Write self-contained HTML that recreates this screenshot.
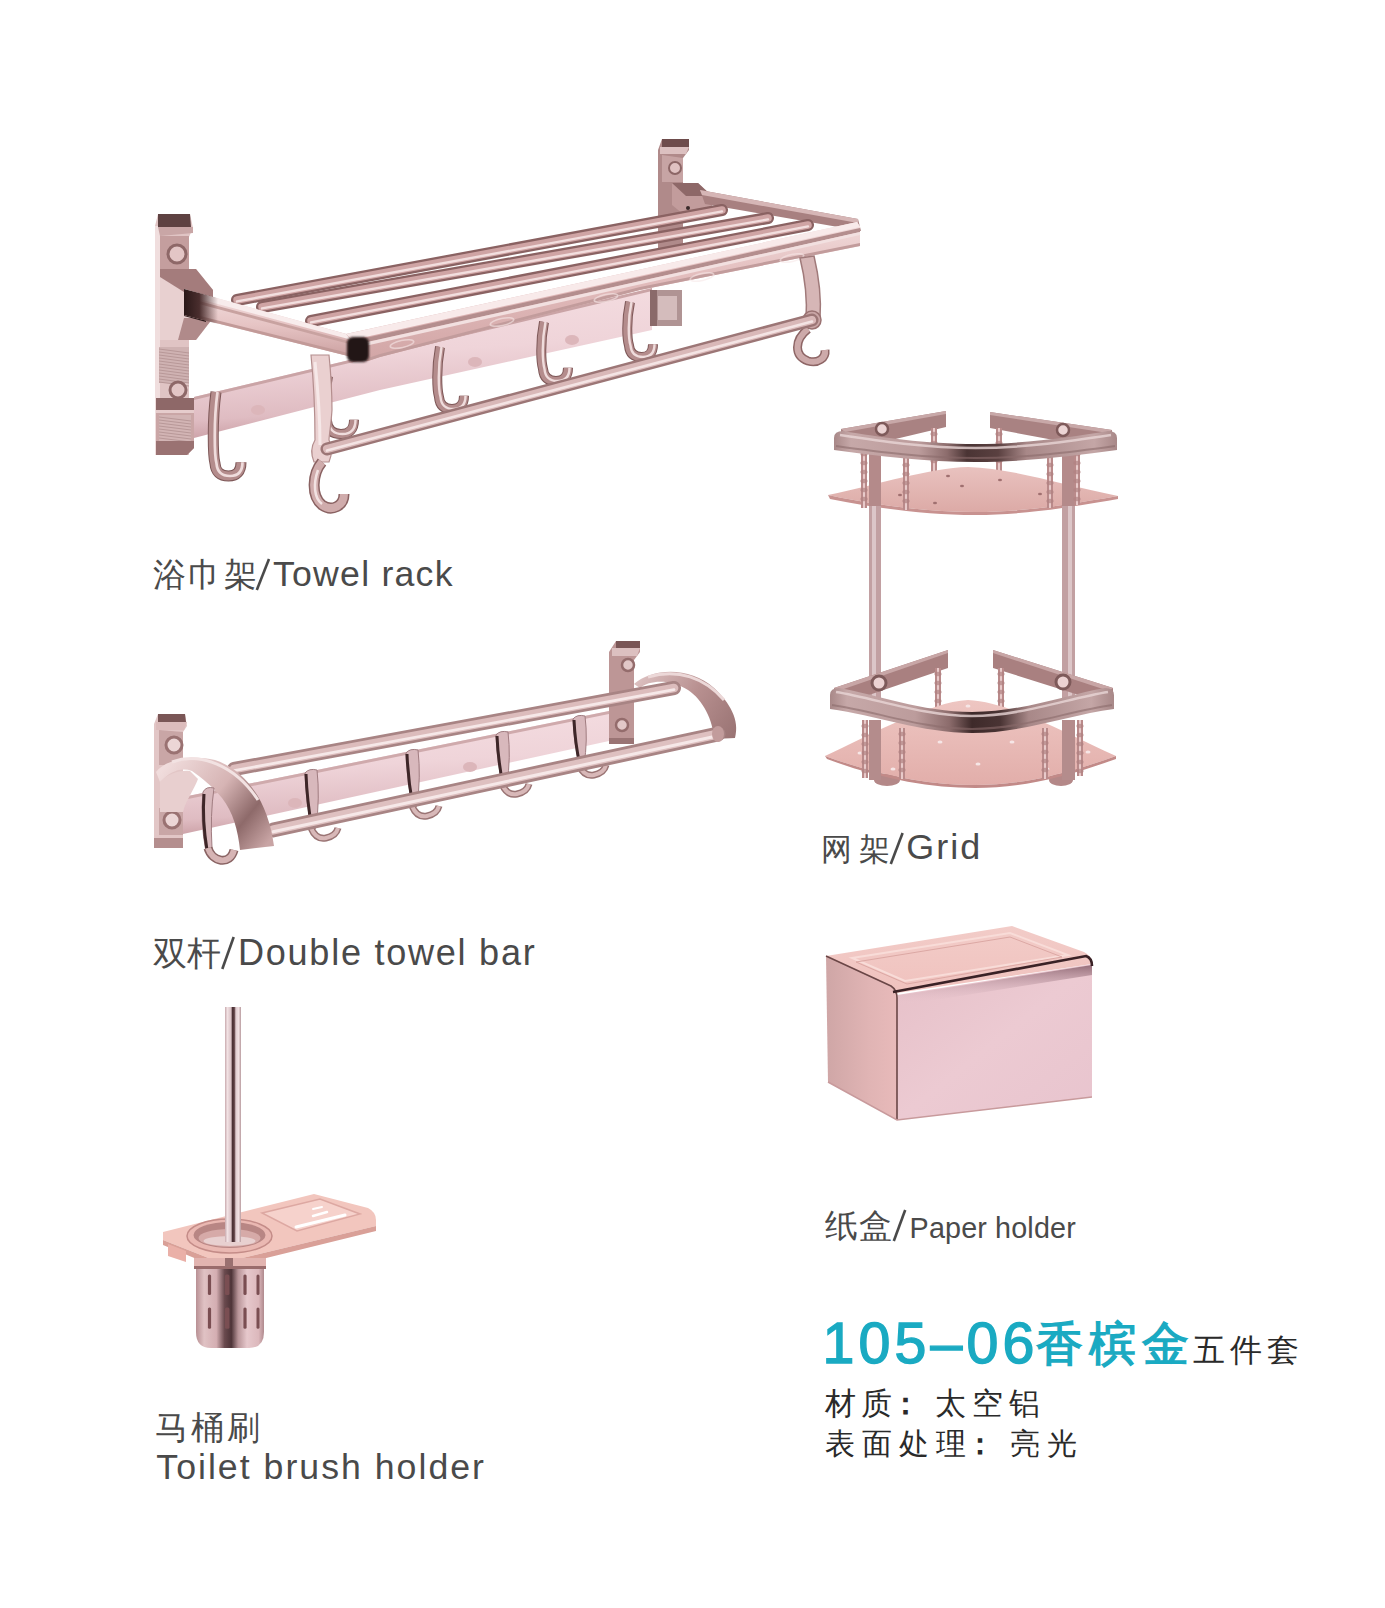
<!DOCTYPE html>
<html><head><meta charset="utf-8">
<style>
html,body{margin:0;padding:0;background:#fff;}
body{width:1385px;height:1608px;position:relative;overflow:hidden;font-family:"Liberation Sans",sans-serif;color:#4a4a4a;}
.t{position:absolute;white-space:nowrap;line-height:1;}
svg{position:absolute;left:0;top:0;}
</style></head><body>
<svg width="1385" height="1608" viewBox="0 0 1385 1608">

<defs>
 <linearGradient id="gTube" x1="0" y1="0" x2="0.2" y2="1">
  <stop offset="0" stop-color="#d8b0b4"/><stop offset="0.15" stop-color="#f4dce0"/><stop offset="0.5" stop-color="#efd4d9"/><stop offset="0.85" stop-color="#dfbcc2"/><stop offset="1" stop-color="#c89ca2"/>
 </linearGradient>
 <linearGradient id="gFace" x1="0" y1="0" x2="0.1" y2="1">
  <stop offset="0" stop-color="#f4dcdb"/><stop offset="0.2" stop-color="#c99a98"/><stop offset="0.35" stop-color="#ecd0cf"/><stop offset="1" stop-color="#e2bcbb"/>
 </linearGradient>
 <linearGradient id="gPlate" x1="0" y1="0" x2="1" y2="0">
  <stop offset="0" stop-color="#c9a3a3"/><stop offset="0.5" stop-color="#e9cfcf"/><stop offset="1" stop-color="#c39b9b"/>
 </linearGradient>
 <linearGradient id="gBox" x1="0" y1="0" x2="1" y2="1">
  <stop offset="0" stop-color="#e6c0c8"/><stop offset="0.5" stop-color="#eccad2"/><stop offset="1" stop-color="#e8c4ce"/>
 </linearGradient>
 <linearGradient id="gBoxSide" x1="0" y1="0" x2="1" y2="0">
  <stop offset="0" stop-color="#cfa6a6"/><stop offset="0.6" stop-color="#e0b4b4"/><stop offset="1" stop-color="#e8baba"/>
 </linearGradient>
 <linearGradient id="gBoxTop" x1="0" y1="0" x2="0" y2="1">
  <stop offset="0" stop-color="#f2ccc8"/><stop offset="1" stop-color="#f0c2be"/>
 </linearGradient>
 <linearGradient id="gRim" x1="0" y1="0" x2="0" y2="1">
  <stop offset="0" stop-color="#a58080"/><stop offset="0.25" stop-color="#d9b9ba"/><stop offset="0.6" stop-color="#9a7474"/><stop offset="1" stop-color="#7d5a5c"/>
 </linearGradient>
 <linearGradient id="gShelf" x1="0" y1="0" x2="0" y2="1">
  <stop offset="0" stop-color="#e9c2bf"/><stop offset="1" stop-color="#dcaaa6"/>
 </linearGradient>
 <linearGradient id="gCup" x1="0" y1="0" x2="1" y2="0">
  <stop offset="0" stop-color="#b89094"/><stop offset="0.12" stop-color="#e0c2c4"/><stop offset="0.3" stop-color="#d4aeb2"/><stop offset="0.42" stop-color="#6a4a4e"/><stop offset="0.52" stop-color="#4e3438"/><stop offset="0.62" stop-color="#b89498"/><stop offset="0.75" stop-color="#e6c8cc"/><stop offset="0.92" stop-color="#dcb8bc"/><stop offset="1" stop-color="#b08a8e"/>
 </linearGradient>
 <linearGradient id="gHandle" x1="0" y1="0" x2="1" y2="0">
  <stop offset="0" stop-color="#c8aaae"/><stop offset="0.15" stop-color="#f2e2e4"/><stop offset="0.38" stop-color="#d8c0c4"/><stop offset="0.46" stop-color="#4a3034"/><stop offset="0.58" stop-color="#5a3c40"/><stop offset="0.68" stop-color="#e0ccd0"/><stop offset="0.85" stop-color="#f0e0e2"/><stop offset="1" stop-color="#b89a9e"/>
 </linearGradient>
 <linearGradient id="gArmL" gradientUnits="userSpaceOnUse" x1="170" y1="760" x2="270" y2="840">
  <stop offset="0" stop-color="#f0dcdc"/><stop offset="0.45" stop-color="#d6b4b4"/><stop offset="0.75" stop-color="#8e6a6a"/><stop offset="1" stop-color="#c8a4a4"/>
 </linearGradient>
 <linearGradient id="gArmR" gradientUnits="userSpaceOnUse" x1="640" y1="675" x2="735" y2="735">
  <stop offset="0" stop-color="#dcc0c0"/><stop offset="0.5" stop-color="#b89090"/><stop offset="1" stop-color="#9a7474"/>
 </linearGradient>
 <linearGradient id="gRimH" gradientUnits="userSpaceOnUse" x1="834" y1="0" x2="1117" y2="0">
  <stop offset="0" stop-color="#a88888"/><stop offset="0.06" stop-color="#c6a8a8"/><stop offset="0.3" stop-color="#bc9c9c"/><stop offset="0.4" stop-color="#8c6c6c"/><stop offset="0.47" stop-color="#4a3434"/><stop offset="0.58" stop-color="#5a4040"/><stop offset="0.68" stop-color="#a88888"/><stop offset="0.92" stop-color="#c4a6a6"/><stop offset="1" stop-color="#a88888"/>
 </linearGradient>
 <linearGradient id="gRimH2" gradientUnits="userSpaceOnUse" x1="830" y1="0" x2="1114" y2="0">
  <stop offset="0" stop-color="#a88888"/><stop offset="0.06" stop-color="#c6a8a8"/><stop offset="0.3" stop-color="#bc9c9c"/><stop offset="0.42" stop-color="#8c6c6c"/><stop offset="0.5" stop-color="#3e2a2a"/><stop offset="0.6" stop-color="#4a3434"/><stop offset="0.7" stop-color="#a88888"/><stop offset="0.92" stop-color="#c4a6a6"/><stop offset="1" stop-color="#a88888"/>
 </linearGradient>
 <linearGradient id="gShelf2" x1="0" y1="0" x2="0" y2="1">
  <stop offset="0" stop-color="#eec6c2"/><stop offset="1" stop-color="#e2aeaa"/>
 </linearGradient>
 <linearGradient id="gBand" x1="0" y1="0" x2="0" y2="1">
  <stop offset="0" stop-color="#8c6470" stop-opacity="0.9"/><stop offset="1" stop-color="#f0d0d8" stop-opacity="0"/>
 </linearGradient>
 <linearGradient id="gFrame" x1="0" y1="0" x2="0" y2="1">
  <stop offset="0" stop-color="#f2dcdc"/><stop offset="0.4" stop-color="#e2bcbc"/><stop offset="1" stop-color="#d2a6a6"/>
 </linearGradient>
 <linearGradient id="gArmFrame" x1="0" y1="0" x2="0" y2="1">
  <stop offset="0" stop-color="#f4e2e2"/><stop offset="0.5" stop-color="#e6c4c4"/><stop offset="1" stop-color="#c89c9c"/>
 </linearGradient>
 <linearGradient id="gSocket" gradientUnits="userSpaceOnUse" x1="184" y1="0" x2="218" y2="0">
  <stop offset="0" stop-color="#2a1818"/><stop offset="0.45" stop-color="#4a2e2e"/><stop offset="1" stop-color="#4a2e2e" stop-opacity="0"/>
 </linearGradient>
 <filter id="blur1" x="-20%" y="-20%" width="140%" height="140%"><feGaussianBlur stdDeviation="1.2"/></filter>
</defs>
<line x1="256.8" y1="590" x2="269" y2="559" stroke="#4a4a4a" stroke-width="2.6"/>
<line x1="222.3" y1="969" x2="233.7" y2="937" stroke="#4a4a4a" stroke-width="2.6"/>
<line x1="890.8" y1="864" x2="902.6" y2="833" stroke="#4a4a4a" stroke-width="2.6"/>
<line x1="893.8" y1="1241" x2="905.2" y2="1210" stroke="#4a4a4a" stroke-width="2.6"/>
<path d="M658,150 L662,139 L689,139 L689,150 L683,158 L683,253 L658,253 Z" fill="#b08a8a"/>
<path d="M662,139 L689,139 L689,147 L662,147 Z" fill="#6e4c4c"/>
<path d="M660,147 L689,147 L686,154 L660,154 Z" fill="#dcc0c0"/>
<path d="M662,155 L683,158 L683,182 L662,182 Z" fill="#c7a4a4"/>
<circle cx="675" cy="168" r="6" fill="#e0c2c2" stroke="#8c6666" stroke-width="2"/>
<path d="M672,183 L698,183 L712,196 L712,214 L683,214 L672,205 Z" fill="#c29c9c"/>
<path d="M672,183 L698,183 L712,196 L686,196 Z" fill="#8e6868"/>
<circle cx="688" cy="208" r="2" fill="#3a2a2a"/>
<path d="M700,190 L858,219 L861,231 L705,204 Z" fill="#a88080"/>
<path d="M700,190 L858,219 L858,223 L702,195 Z" fill="#d6b6b6"/>
<line x1="237" y1="300" x2="722" y2="210" stroke="#8a6262" stroke-width="12" stroke-linecap="round"/><line x1="237" y1="300" x2="722" y2="210" stroke="#cfa4a4" stroke-width="7.4399999999999995" stroke-linecap="round"/><line x1="237" y1="301.44" x2="722" y2="211.44" stroke="#f2dede" stroke-width="2.4000000000000004" stroke-linecap="round"/>
<line x1="262" y1="307" x2="768" y2="218" stroke="#8a6262" stroke-width="12" stroke-linecap="round"/><line x1="262" y1="307" x2="768" y2="218" stroke="#cfa4a4" stroke-width="7.4399999999999995" stroke-linecap="round"/><line x1="262" y1="308.44" x2="768" y2="219.44" stroke="#f2dede" stroke-width="2.4000000000000004" stroke-linecap="round"/>
<line x1="311" y1="321" x2="808" y2="225" stroke="#8a6262" stroke-width="12" stroke-linecap="round"/><line x1="311" y1="321" x2="808" y2="225" stroke="#cfa4a4" stroke-width="7.4399999999999995" stroke-linecap="round"/><line x1="311" y1="322.44" x2="808" y2="226.44" stroke="#f2dede" stroke-width="2.4000000000000004" stroke-linecap="round"/>
<path d="M155,226 L158,214 L190,214 L193,228 L189,237 L189,455 L155,455 Z" fill="#e0c4c4"/>
<path d="M155,226 L160,226 L160,455 L155,455 Z" fill="#f0dede"/>
<path d="M158,214 L190,214 L191,227 L158,227 Z" fill="#5e4242"/>
<path d="M158,227 L193,227 L193,233 L160,236 Z" fill="#c9a6a6"/>
<path d="M160,236 L189,236 L189,269 L160,269 Z" fill="#c49e9e"/>
<circle cx="177" cy="254" r="9" fill="#e3c6c6" stroke="#8e6868" stroke-width="3"/>
<path d="M160,269 L196,269 L213,290 L213,318 L196,340 L160,340 Z" fill="#e8d0d0"/>
<path d="M160,269 L196,269 L213,290 L213,300 L184,292 L160,277 Z" fill="#a47c7c"/>
<path d="M184,318 L213,318 L196,340 L178,340 Z" fill="#b08a8a"/>
<path d="M184,292 L206,297 L206,322 L184,316 Z" fill="#2e1c1c"/>
<rect x="159" y="347" width="30" height="36" fill="#cfb2b2"/>
<line x1="159" y1="349" x2="189" y2="353" stroke="#b89898" stroke-width="1"/>
<line x1="159" y1="352" x2="189" y2="356" stroke="#b89898" stroke-width="1"/>
<line x1="159" y1="355" x2="189" y2="359" stroke="#b89898" stroke-width="1"/>
<line x1="159" y1="358" x2="189" y2="362" stroke="#b89898" stroke-width="1"/>
<line x1="159" y1="361" x2="189" y2="365" stroke="#b89898" stroke-width="1"/>
<line x1="159" y1="364" x2="189" y2="368" stroke="#b89898" stroke-width="1"/>
<line x1="159" y1="367" x2="189" y2="371" stroke="#b89898" stroke-width="1"/>
<line x1="159" y1="370" x2="189" y2="374" stroke="#b89898" stroke-width="1"/>
<line x1="159" y1="373" x2="189" y2="377" stroke="#b89898" stroke-width="1"/>
<line x1="159" y1="376" x2="189" y2="380" stroke="#b89898" stroke-width="1"/>
<line x1="159" y1="379" x2="189" y2="383" stroke="#b89898" stroke-width="1"/>
<line x1="159" y1="382" x2="189" y2="386" stroke="#b89898" stroke-width="1"/>
<circle cx="178" cy="390" r="8" fill="#e3c6c6" stroke="#8e6868" stroke-width="3"/>
<path d="M156,398 L194,398 L194,448 L187,455 L156,455 Z" fill="#caa6a6"/>
<path d="M156,398 L194,398 L194,410 L156,410 Z" fill="#8e6868"/>
<path d="M156,410 L194,410 L194,413 L156,413 Z" fill="#e6cccc"/>
<rect x="159" y="415" width="32" height="26" fill="#d2b4b4"/>
<line x1="159" y1="417" x2="191" y2="421" stroke="#b89898" stroke-width="1"/>
<line x1="159" y1="420" x2="191" y2="424" stroke="#b89898" stroke-width="1"/>
<line x1="159" y1="423" x2="191" y2="427" stroke="#b89898" stroke-width="1"/>
<line x1="159" y1="426" x2="191" y2="430" stroke="#b89898" stroke-width="1"/>
<line x1="159" y1="429" x2="191" y2="433" stroke="#b89898" stroke-width="1"/>
<line x1="159" y1="432" x2="191" y2="436" stroke="#b89898" stroke-width="1"/>
<line x1="159" y1="435" x2="191" y2="439" stroke="#b89898" stroke-width="1"/>
<line x1="159" y1="438" x2="191" y2="442" stroke="#b89898" stroke-width="1"/>
<path d="M156,441 L194,441 L194,448 L187,455 L156,455 Z" fill="#9a7272"/>
<path d="M194,397 L652,288 L652,330 L380,390 L194,438 Z" fill="url(#gTube)"/>
<path d="M194,397 L652,288 L652,291 L194,400 Z" fill="#caa4a6"/>
<ellipse cx="258" cy="410" rx="7" ry="5" fill="#dcb6ba"/>
<ellipse cx="475" cy="362" rx="7" ry="5" fill="#dcb6ba"/>
<ellipse cx="572" cy="340" rx="7" ry="5" fill="#dcb6ba"/>
<path d="M650,290 L682,290 L682,326 L650,326 Z" fill="#b09494"/><path d="M658,296 L677,296 L677,320 L658,320 Z" fill="#d4bcbc"/><path d="M650,290 L657,290 L657,326 L650,326 Z" fill="#8a6a6a"/>
<path d="M216,392 C212,421.4 213,456.0 215,463.5 Q216,476 228.5,476 Q241,476 241,462.25" fill="none" stroke="#7e5858" stroke-width="11" stroke-linecap="butt"/><path d="M216,392 C212,421.4 213,456.0 215,463.5 Q216,476 228.5,476 Q241,476 241,462.25" fill="none" stroke="#b48c8c" stroke-width="9" stroke-linecap="butt"/><path d="M216,392 C212,421.4 213,456.0 215,463.5 Q216,476 228.5,476 Q241,476 241,462.25" fill="none" stroke="#efdcdc" stroke-width="2.6999999999999997" transform="translate(1.5,0)"/>
<path d="M440,347 C436,368.7 437,389.8 439,397.0 Q440,409 452.0,409 Q464,409 464,395.8" fill="none" stroke="#7e5858" stroke-width="10" stroke-linecap="butt"/><path d="M440,347 C436,368.7 437,389.8 439,397.0 Q440,409 452.0,409 Q464,409 464,395.8" fill="none" stroke="#b48c8c" stroke-width="8" stroke-linecap="butt"/><path d="M440,347 C436,368.7 437,389.8 439,397.0 Q440,409 452.0,409 Q464,409 464,395.8" fill="none" stroke="#efdcdc" stroke-width="2.4" transform="translate(1.5,0)"/>
<path d="M544,322 C540,342.65 541,361.8 543,369.0 Q544,381 556.0,381 Q568,381 568,367.8" fill="none" stroke="#7e5858" stroke-width="10" stroke-linecap="butt"/><path d="M544,322 C540,342.65 541,361.8 543,369.0 Q544,381 556.0,381 Q568,381 568,367.8" fill="none" stroke="#b48c8c" stroke-width="8" stroke-linecap="butt"/><path d="M544,322 C540,342.65 541,361.8 543,369.0 Q544,381 556.0,381 Q568,381 568,367.8" fill="none" stroke="#efdcdc" stroke-width="2.4" transform="translate(1.5,0)"/>
<path d="M630,302 C626,321.25 627,338.6 629,345.5 Q630,357 641.5,357 Q653,357 653,344.35" fill="none" stroke="#7e5858" stroke-width="10" stroke-linecap="butt"/><path d="M630,302 C626,321.25 627,338.6 629,345.5 Q630,357 641.5,357 Q653,357 653,344.35" fill="none" stroke="#b48c8c" stroke-width="8" stroke-linecap="butt"/><path d="M630,302 C626,321.25 627,338.6 629,345.5 Q630,357 641.5,357 Q653,357 653,344.35" fill="none" stroke="#efdcdc" stroke-width="2.4" transform="translate(1.5,0)"/>
<path d="M328,376 C324,396.3 325,413.2 327,421.0 Q328,434 341.0,434 Q354,434 354,419.7" fill="none" stroke="#7e5858" stroke-width="10" stroke-linecap="butt"/><path d="M328,376 C324,396.3 325,413.2 327,421.0 Q328,434 341.0,434 Q354,434 354,419.7" fill="none" stroke="#b48c8c" stroke-width="8" stroke-linecap="butt"/><path d="M328,376 C324,396.3 325,413.2 327,421.0 Q328,434 341.0,434 Q354,434 354,419.7" fill="none" stroke="#efdcdc" stroke-width="2.4" transform="translate(1.5,0)"/>
<path d="M184,289 L350,335 L368,361 L184,315 Z" fill="url(#gArmFrame)"/>
<path d="M184,289 L350,335 L352,340 L184,295 Z" fill="#f8ecec"/>
<path d="M184,297 L352,342 L353,345 L184,300 Z" fill="#c8a2a0"/>
<path d="M184,312 L368,358 L368,361 L184,315 Z" fill="#c29a98"/>
<path d="M184,289 L218,298 L218,324 L184,315 Z" fill="url(#gSocket)"/>
<path d="M346,334 L857,222 L860,226 L860,246 L640,290 L380,357 L368,361 Z" fill="url(#gFrame)"/>
<path d="M346,334 L857,222 L860,227 L352,340 Z" fill="#f8eaea"/>
<path d="M352,341 L860,228 L860,232 L354,345 Z" fill="#b48e8e"/>
<path d="M354,345 L860,232 L860,235 L356,348 Z" fill="#f2e0e0"/>
<path d="M368,358 L380,354 L640,287 L860,243 L860,246 L640,290 L380,357 L368,361 Z" fill="#c29c9c"/>
<rect x="347" y="337" width="22" height="25" rx="6" fill="#241212" filter="url(#blur1)"/>
<ellipse cx="402" cy="344" rx="12" ry="3.5" fill="none" stroke="#f6e8e8" stroke-width="1.6" opacity="0.6" transform="rotate(-12 402 344)"/>
<ellipse cx="502" cy="322" rx="12" ry="3.5" fill="none" stroke="#f6e8e8" stroke-width="1.6" opacity="0.6" transform="rotate(-12 502 322)"/>
<ellipse cx="606" cy="298" rx="12" ry="3.5" fill="none" stroke="#f6e8e8" stroke-width="1.6" opacity="0.6" transform="rotate(-12 606 298)"/>
<ellipse cx="702" cy="277" rx="12" ry="3.5" fill="none" stroke="#f6e8e8" stroke-width="1.6" opacity="0.6" transform="rotate(-12 702 277)"/>
<ellipse cx="792" cy="258" rx="12" ry="3.5" fill="none" stroke="#f6e8e8" stroke-width="1.6" opacity="0.6" transform="rotate(-12 792 258)"/>
<path d="M311,355 L329,355 C331,375 332,395 332,410 C331,425 329,436 329,440 Q334,450 329,462 L314,462 Q309,450 315,440 C315,425 315,395 311,355 Z" fill="#ead0d0" stroke="#b48e8e" stroke-width="1.2"/>
<path d="M315,362 C318,390 320,420 320,445" fill="none" stroke="#f6e8e8" stroke-width="3"/>
<path d="M322,462 C312,474 311,496 322,505 C332,512 344,506 344,494" fill="none" stroke="#8a6262" stroke-width="11" stroke-linecap="butt"/>
<path d="M322,462 C312,474 311,496 322,505 C332,512 344,506 344,494" fill="none" stroke="#d0acac" stroke-width="8" stroke-linecap="butt"/>
<path d="M318,470 C313,484 314,498 322,504" fill="none" stroke="#f2e2e2" stroke-width="2.5"/>
<path d="M800,258 L814,256 Q822,290 820,318 L806,320 Q808,290 800,258 Z" fill="#d6b6b6" stroke="#a07a7a" stroke-width="1.5"/>
<circle cx="812" cy="320" r="9" fill="#caa6a6" stroke="#9a7272" stroke-width="1.5"/>
<path d="M808,329 C794,340 794,356 808,361 C818,364 826,358 825,350" fill="none" stroke="#8e6666" stroke-width="9" stroke-linecap="butt"/>
<path d="M808,329 C794,340 794,356 808,361 C818,364 826,358 825,350" fill="none" stroke="#cdaaaa" stroke-width="6" stroke-linecap="butt"/>
<line x1="327" y1="449" x2="812" y2="320" stroke="#9c7676" stroke-width="13" stroke-linecap="round"/><line x1="327" y1="449" x2="812" y2="320" stroke="#d9b8b8" stroke-width="8.06" stroke-linecap="round"/><line x1="327" y1="450.56" x2="812" y2="321.56" stroke="#f4e4e4" stroke-width="2.6" stroke-linecap="round"/>
<path d="M609,652 L616,641 L640,641 L640,652 L634,660 L634,744 L609,744 Z" fill="#bd9696"/>
<path d="M616,641 L640,641 L640,648 L616,648 Z" fill="#7a5656"/>
<path d="M612,648 L640,648 L637,656 L612,656 Z" fill="#dcc0c0"/>
<circle cx="628" cy="665" r="6" fill="#e2c8c8" stroke="#946c6c" stroke-width="2.5"/>
<circle cx="622" cy="725" r="6" fill="#e2c8c8" stroke="#946c6c" stroke-width="2.5"/>
<path d="M609,738 L634,738 L634,744 L609,744 Z" fill="#9a7474"/>
<path d="M634,684 C652,668 690,666 714,688 C730,703 740,720 735,738 L714,739 C713,720 703,700 688,690 C670,679 650,680 640,688 Z" fill="url(#gArmR)"/>
<path d="M648,677 C678,668 705,678 724,700" fill="none" stroke="#ecd8d8" stroke-width="3"/>
<line x1="234" y1="769" x2="674" y2="688" stroke="#a88484" stroke-width="14" stroke-linecap="round"/><line x1="234" y1="769" x2="674" y2="688" stroke="#dcbcbc" stroke-width="8.68" stroke-linecap="round"/><line x1="234" y1="770.68" x2="674" y2="689.68" stroke="#f6e8e8" stroke-width="2.8000000000000003" stroke-linecap="round"/>
<path d="M154,724 L158,714 L185,714 L187,726 L183,732 L183,848 L154,848 Z" fill="#e2c6c6"/>
<path d="M158,714 L185,714 L186,722 L158,722 Z" fill="#7a5656"/>
<path d="M156,722 L187,722 L184,730 L156,730 Z" fill="#dcbcbc"/>
<path d="M159,730 L183,732 L183,765 L159,765 Z" fill="#c9a6a6"/>
<circle cx="174" cy="745" r="8" fill="#ecd6d6" stroke="#9a7272" stroke-width="3"/>
<path d="M159,808 L183,808 L183,835 L159,835 Z" fill="#c9a6a6"/>
<circle cx="172" cy="820" r="8" fill="#ecd6d6" stroke="#9a7272" stroke-width="3"/>
<path d="M154,838 L183,838 L183,848 L154,848 Z" fill="#b48e8e"/>
<path d="M183,797 L609,711 L609,741 L183,834 Z" fill="url(#gTube)"/>
<path d="M183,797 L609,711 L609,714 L183,800 Z" fill="#cfaaac"/>
<ellipse cx="295" cy="803" rx="7" ry="5" fill="#dcb6ba"/>
<ellipse cx="470" cy="767" rx="7" ry="5" fill="#dcb6ba"/>
<path d="M305,773 Q309,768 317,770 Q320,797.2 316,828 L312,830 Q306,804.0 305,773 Z" fill="#d8b8bc" stroke="#a07c80" stroke-width="1"/><path d="M306,774 Q307,800.6 312,829" fill="none" stroke="#3e2628" stroke-width="3"/><path d="M311,828 Q316,840 326,838 Q336,836 338,828" fill="none" stroke="#9a7474" stroke-width="7"/><path d="M311,828 Q316,840 326,838 Q336,836 338,828" fill="none" stroke="#d8b8b8" stroke-width="4"/>
<path d="M406,753 Q410,748 418,750 Q421,776.4 417,806 L413,808 Q407,783.0 406,753 Z" fill="#d8b8bc" stroke="#a07c80" stroke-width="1"/><path d="M407,754 Q408,779.7 413,807" fill="none" stroke="#3e2628" stroke-width="3"/><path d="M412,806 Q417,818 427,816 Q437,814 439,806" fill="none" stroke="#9a7474" stroke-width="7"/><path d="M412,806 Q417,818 427,816 Q437,814 439,806" fill="none" stroke="#d8b8b8" stroke-width="4"/>
<path d="M496,735 Q500,730 508,732 Q511,756.8 507,784 L503,786 Q497,763.0 496,735 Z" fill="#d8b8bc" stroke="#a07c80" stroke-width="1"/><path d="M497,736 Q498,759.9 503,785" fill="none" stroke="#3e2628" stroke-width="3"/><path d="M502,784 Q507,796 517,794 Q527,792 529,784" fill="none" stroke="#9a7474" stroke-width="7"/><path d="M502,784 Q507,796 517,794 Q527,792 529,784" fill="none" stroke="#d8b8b8" stroke-width="4"/>
<path d="M573,719 Q577,714 585,716 Q588,739.6 584,765 L580,767 Q574,745.5 573,719 Z" fill="#d8b8bc" stroke="#a07c80" stroke-width="1"/><path d="M574,720 Q575,742.55 580,766" fill="none" stroke="#3e2628" stroke-width="3"/><path d="M579,765 Q584,777 594,775 Q604,773 606,765" fill="none" stroke="#9a7474" stroke-width="7"/><path d="M579,765 Q584,777 594,775 Q604,773 606,765" fill="none" stroke="#d8b8b8" stroke-width="4"/>
<line x1="273" y1="830" x2="718" y2="734" stroke="#a88484" stroke-width="15" stroke-linecap="round"/><line x1="273" y1="830" x2="718" y2="734" stroke="#dec0c0" stroke-width="9.3" stroke-linecap="round"/><line x1="273" y1="831.8" x2="718" y2="735.8" stroke="#f6e8e8" stroke-width="3.0" stroke-linecap="round"/>
<ellipse cx="718" cy="734" rx="6" ry="8" fill="#c29c9c"/>
<path d="M160,782 C168,774 178,770 190,771 L198,779 C194,790 186,800 183,812 L160,812 Z" fill="#e8cfcf"/>
<path d="M156,772 C165,760 190,754 215,760 C245,770 268,800 274,846 L240,850 C238,830 233,812 222,798 C212,786 202,778 192,771 C180,767 170,772 160,782 Z" fill="url(#gArmL)"/>
<path d="M172,762 C200,752 235,765 258,800" fill="none" stroke="#f2e2e2" stroke-width="3"/>
<path d="M203,792 Q206,786 214,788 Q210,815 212,848 L206,852 Q200,820 203,792 Z" fill="#d8b8bc" stroke="#a07c80" stroke-width="1"/>
<path d="M204,794 Q202,820 207,850" fill="none" stroke="#3e2628" stroke-width="3"/>
<path d="M208,848 C212,862 230,866 234,850" fill="none" stroke="#8a6464" stroke-width="9"/>
<path d="M208,848 C212,862 230,866 234,850" fill="none" stroke="#d6b4b4" stroke-width="6"/>
<path d="M841,429 L946,411 L946,427 L866,446 L841,446 Z" fill="#a98282"/>
<path d="M990,412 L1112,430 L1112,446 L1086,446 L990,428 Z" fill="#a98282"/>
<path d="M841,429 L946,411 L946,414 L845,432 Z" fill="#c8a8a8"/>
<path d="M990,412 L1112,430 L1108,433 L990,415 Z" fill="#c8a8a8"/>
<circle cx="882" cy="429" r="6" fill="#ecd4d4" stroke="#7e5a5a" stroke-width="2.5"/>
<circle cx="1063" cy="430" r="6" fill="#ecd4d4" stroke="#7e5a5a" stroke-width="2.5"/>
<rect x="931" y="428" width="6" height="44" fill="#b98a8a"/><rect x="933" y="428" width="2" height="44" fill="#e8caca"/><ellipse cx="934" cy="434" rx="3.6" ry="2.2" fill="#b08282" opacity="0.7"/><ellipse cx="934" cy="443" rx="3.6" ry="2.2" fill="#b08282" opacity="0.7"/><ellipse cx="934" cy="452" rx="3.6" ry="2.2" fill="#b08282" opacity="0.7"/><ellipse cx="934" cy="461" rx="3.6" ry="2.2" fill="#b08282" opacity="0.7"/>
<rect x="996" y="428" width="6" height="44" fill="#b98a8a"/><rect x="998" y="428" width="2" height="44" fill="#e8caca"/><ellipse cx="999" cy="434" rx="3.6" ry="2.2" fill="#b08282" opacity="0.7"/><ellipse cx="999" cy="443" rx="3.6" ry="2.2" fill="#b08282" opacity="0.7"/><ellipse cx="999" cy="452" rx="3.6" ry="2.2" fill="#b08282" opacity="0.7"/><ellipse cx="999" cy="461" rx="3.6" ry="2.2" fill="#b08282" opacity="0.7"/>
<path d="M828,495 C880,484 930,468 968,467 C1010,468 1060,484 1118,496 C1060,506 1020,512 975,512 C930,512 880,506 828,495 Z" fill="url(#gShelf)"/>
<path d="M828,495 C880,506 930,512 975,512 C1020,512 1060,506 1118,496 L1118,499 C1060,509 1020,515 975,515 C930,515 880,509 830,499 Z" fill="#c89290"/>
<ellipse cx="948" cy="476" rx="2" ry="1.3" fill="#a07070"/>
<ellipse cx="962" cy="486" rx="2" ry="1.3" fill="#a07070"/>
<ellipse cx="900" cy="495" rx="2" ry="1.3" fill="#a07070"/>
<ellipse cx="935" cy="503" rx="2" ry="1.3" fill="#a07070"/>
<ellipse cx="1040" cy="494" rx="2" ry="1.3" fill="#a07070"/>
<ellipse cx="1070" cy="490" rx="2" ry="1.3" fill="#a07070"/>
<ellipse cx="865" cy="497" rx="2" ry="1.3" fill="#a07070"/>
<ellipse cx="1000" cy="480" rx="2" ry="1.3" fill="#a07070"/>
<rect x="869" y="446" width="12" height="252" fill="#c2a0a2"/><rect x="872" y="446" width="4" height="252" fill="#dcc6c8"/>
<rect x="1062" y="446" width="13" height="252" fill="#c2a0a2"/><rect x="1068" y="446" width="4" height="252" fill="#dcc6c8"/>
<rect x="869" y="446" width="12" height="60" fill="#b48a8a"/><rect x="1062" y="446" width="13" height="60" fill="#b48a8a"/>
<rect x="861" y="448" width="6" height="60" fill="#b98a8a"/><rect x="863" y="448" width="2" height="60" fill="#e8caca"/><ellipse cx="864" cy="454" rx="3.6" ry="2.2" fill="#b08282" opacity="0.7"/><ellipse cx="864" cy="463" rx="3.6" ry="2.2" fill="#b08282" opacity="0.7"/><ellipse cx="864" cy="472" rx="3.6" ry="2.2" fill="#b08282" opacity="0.7"/><ellipse cx="864" cy="481" rx="3.6" ry="2.2" fill="#b08282" opacity="0.7"/><ellipse cx="864" cy="490" rx="3.6" ry="2.2" fill="#b08282" opacity="0.7"/><ellipse cx="864" cy="499" rx="3.6" ry="2.2" fill="#b08282" opacity="0.7"/>
<rect x="903" y="450" width="6" height="60" fill="#b98a8a"/><rect x="905" y="450" width="2" height="60" fill="#e8caca"/><ellipse cx="906" cy="456" rx="3.6" ry="2.2" fill="#b08282" opacity="0.7"/><ellipse cx="906" cy="465" rx="3.6" ry="2.2" fill="#b08282" opacity="0.7"/><ellipse cx="906" cy="474" rx="3.6" ry="2.2" fill="#b08282" opacity="0.7"/><ellipse cx="906" cy="483" rx="3.6" ry="2.2" fill="#b08282" opacity="0.7"/><ellipse cx="906" cy="492" rx="3.6" ry="2.2" fill="#b08282" opacity="0.7"/><ellipse cx="906" cy="501" rx="3.6" ry="2.2" fill="#b08282" opacity="0.7"/>
<rect x="1047" y="450" width="6" height="58" fill="#b98a8a"/><rect x="1049" y="450" width="2" height="58" fill="#e8caca"/><ellipse cx="1050" cy="456" rx="3.6" ry="2.2" fill="#b08282" opacity="0.7"/><ellipse cx="1050" cy="465" rx="3.6" ry="2.2" fill="#b08282" opacity="0.7"/><ellipse cx="1050" cy="474" rx="3.6" ry="2.2" fill="#b08282" opacity="0.7"/><ellipse cx="1050" cy="483" rx="3.6" ry="2.2" fill="#b08282" opacity="0.7"/><ellipse cx="1050" cy="492" rx="3.6" ry="2.2" fill="#b08282" opacity="0.7"/><ellipse cx="1050" cy="501" rx="3.6" ry="2.2" fill="#b08282" opacity="0.7"/>
<rect x="1074" y="448" width="6" height="57" fill="#b98a8a"/><rect x="1076" y="448" width="2" height="57" fill="#e8caca"/><ellipse cx="1077" cy="454" rx="3.6" ry="2.2" fill="#b08282" opacity="0.7"/><ellipse cx="1077" cy="463" rx="3.6" ry="2.2" fill="#b08282" opacity="0.7"/><ellipse cx="1077" cy="472" rx="3.6" ry="2.2" fill="#b08282" opacity="0.7"/><ellipse cx="1077" cy="481" rx="3.6" ry="2.2" fill="#b08282" opacity="0.7"/><ellipse cx="1077" cy="490" rx="3.6" ry="2.2" fill="#b08282" opacity="0.7"/><ellipse cx="1077" cy="499" rx="3.6" ry="2.2" fill="#b08282" opacity="0.7"/>
<path d="M834,438 Q834,431 843,431 C879,437 925.5,444 975.5,444 C1025.5,444 1072,437 1108,431 Q1117,431 1117,438 L1117,450 C1072,456 1025.5,462 975.5,462 C925.5,462 879,456 834,450 Z" fill="url(#gRimH)"/><path d="M840,435 C879,441 925.5,448 975.5,448 C1025.5,448 1072,441 1111,435" fill="none" stroke="#e8d6d6" stroke-width="2.5" opacity="0.8"/><path d="M836,446 C879,452 925.5,458 975.5,458 C1025.5,458 1072,452 1115,446" fill="none" stroke="#8a6a6a" stroke-width="2" opacity="0.6"/>
<path d="M834,688 L948,650 L948,668 L866,696 L834,696 Z" fill="#a98080"/>
<path d="M993,650 L1113,688 L1113,696 L1082,696 L993,668 Z" fill="#a98080"/>
<path d="M834,688 L948,650 L948,653 L838,691 Z" fill="#c8a6a6"/>
<path d="M993,650 L1113,688 L1109,691 L993,653 Z" fill="#c8a6a6"/>
<circle cx="879" cy="683" r="7" fill="#ecd2d2" stroke="#7e5a5a" stroke-width="3"/>
<circle cx="1063" cy="682" r="7" fill="#ecd2d2" stroke="#7e5a5a" stroke-width="3"/>
<rect x="935" y="668" width="6" height="44" fill="#b98a8a"/><rect x="937" y="668" width="2" height="44" fill="#e8caca"/><ellipse cx="938" cy="674" rx="3.6" ry="2.2" fill="#b08282" opacity="0.7"/><ellipse cx="938" cy="683" rx="3.6" ry="2.2" fill="#b08282" opacity="0.7"/><ellipse cx="938" cy="692" rx="3.6" ry="2.2" fill="#b08282" opacity="0.7"/><ellipse cx="938" cy="701" rx="3.6" ry="2.2" fill="#b08282" opacity="0.7"/>
<rect x="998" y="668" width="6" height="44" fill="#b98a8a"/><rect x="1000" y="668" width="2" height="44" fill="#e8caca"/><ellipse cx="1001" cy="674" rx="3.6" ry="2.2" fill="#b08282" opacity="0.7"/><ellipse cx="1001" cy="683" rx="3.6" ry="2.2" fill="#b08282" opacity="0.7"/><ellipse cx="1001" cy="692" rx="3.6" ry="2.2" fill="#b08282" opacity="0.7"/><ellipse cx="1001" cy="701" rx="3.6" ry="2.2" fill="#b08282" opacity="0.7"/>
<ellipse cx="887" cy="780" rx="13" ry="6" fill="#b48888"/><ellipse cx="1061" cy="780" rx="12" ry="6" fill="#b48888"/>
<path d="M825,756 C870,735 930,702 968,700 C1010,702 1070,735 1116,756 C1060,776 1020,785 975,785 C930,785 880,776 825,756 Z" fill="url(#gShelf2)"/>
<path d="M825,756 C880,776 930,785 975,785 C1020,785 1060,776 1116,756 L1116,759 C1060,779 1020,788 975,788 C930,788 880,779 827,759 Z" fill="#c28a88"/>
<ellipse cx="860" cy="753" rx="2.5" ry="1.5" fill="#f6e6e6"/>
<ellipse cx="893" cy="769" rx="2.5" ry="1.5" fill="#f6e6e6"/>
<ellipse cx="940" cy="742" rx="2.5" ry="1.5" fill="#f6e6e6"/>
<ellipse cx="978" cy="764" rx="2.5" ry="1.5" fill="#f6e6e6"/>
<ellipse cx="1012" cy="742" rx="2.5" ry="1.5" fill="#f6e6e6"/>
<ellipse cx="1047" cy="769" rx="2.5" ry="1.5" fill="#f6e6e6"/>
<ellipse cx="1088" cy="752" rx="2.5" ry="1.5" fill="#f6e6e6"/>
<ellipse cx="968" cy="706" rx="2.5" ry="1.5" fill="#f6e6e6"/>
<rect x="869" y="720" width="12" height="60" fill="#b48c8c"/><rect x="1062" y="720" width="13" height="60" fill="#b48c8c"/>
<rect x="862" y="720" width="6" height="58" fill="#b98a8a"/><rect x="864" y="720" width="2" height="58" fill="#e8caca"/><ellipse cx="865" cy="726" rx="3.6" ry="2.2" fill="#b08282" opacity="0.7"/><ellipse cx="865" cy="735" rx="3.6" ry="2.2" fill="#b08282" opacity="0.7"/><ellipse cx="865" cy="744" rx="3.6" ry="2.2" fill="#b08282" opacity="0.7"/><ellipse cx="865" cy="753" rx="3.6" ry="2.2" fill="#b08282" opacity="0.7"/><ellipse cx="865" cy="762" rx="3.6" ry="2.2" fill="#b08282" opacity="0.7"/><ellipse cx="865" cy="771" rx="3.6" ry="2.2" fill="#b08282" opacity="0.7"/>
<rect x="899" y="728" width="6" height="51" fill="#b98a8a"/><rect x="901" y="728" width="2" height="51" fill="#e8caca"/><ellipse cx="902" cy="734" rx="3.6" ry="2.2" fill="#b08282" opacity="0.7"/><ellipse cx="902" cy="743" rx="3.6" ry="2.2" fill="#b08282" opacity="0.7"/><ellipse cx="902" cy="752" rx="3.6" ry="2.2" fill="#b08282" opacity="0.7"/><ellipse cx="902" cy="761" rx="3.6" ry="2.2" fill="#b08282" opacity="0.7"/><ellipse cx="902" cy="770" rx="3.6" ry="2.2" fill="#b08282" opacity="0.7"/>
<rect x="1042" y="728" width="6" height="51" fill="#b98a8a"/><rect x="1044" y="728" width="2" height="51" fill="#e8caca"/><ellipse cx="1045" cy="734" rx="3.6" ry="2.2" fill="#b08282" opacity="0.7"/><ellipse cx="1045" cy="743" rx="3.6" ry="2.2" fill="#b08282" opacity="0.7"/><ellipse cx="1045" cy="752" rx="3.6" ry="2.2" fill="#b08282" opacity="0.7"/><ellipse cx="1045" cy="761" rx="3.6" ry="2.2" fill="#b08282" opacity="0.7"/><ellipse cx="1045" cy="770" rx="3.6" ry="2.2" fill="#b08282" opacity="0.7"/>
<rect x="1077" y="720" width="6" height="56" fill="#b98a8a"/><rect x="1079" y="720" width="2" height="56" fill="#e8caca"/><ellipse cx="1080" cy="726" rx="3.6" ry="2.2" fill="#b08282" opacity="0.7"/><ellipse cx="1080" cy="735" rx="3.6" ry="2.2" fill="#b08282" opacity="0.7"/><ellipse cx="1080" cy="744" rx="3.6" ry="2.2" fill="#b08282" opacity="0.7"/><ellipse cx="1080" cy="753" rx="3.6" ry="2.2" fill="#b08282" opacity="0.7"/><ellipse cx="1080" cy="762" rx="3.6" ry="2.2" fill="#b08282" opacity="0.7"/><ellipse cx="1080" cy="771" rx="3.6" ry="2.2" fill="#b08282" opacity="0.7"/>
<path d="M830,695 Q830,688 839,688 C875,694 922.0,712 972.0,712 C1022.0,712 1069,694 1105,688 Q1114,688 1114,695 L1114,709 C1069,715 1022.0,733 972.0,733 C922.0,733 875,715 830,709 Z" fill="url(#gRimH2)"/><path d="M836,692 C875,698 922.0,716 972.0,716 C1022.0,716 1069,698 1108,692" fill="none" stroke="#e8d6d6" stroke-width="2.5" opacity="0.8"/><path d="M832,705 C875,711 922.0,729 972.0,729 C1022.0,729 1069,711 1112,705" fill="none" stroke="#8a6a6a" stroke-width="2" opacity="0.6"/>
<path d="M826,956 L891,986 Q897,990 897,998 L897,1120 L828,1082 Z" fill="url(#gBoxSide)"/>
<path d="M826,956 L1012,926 L1084,952 Q1092,956 1092,964 L897,993 Q897,990 891,986 Z" fill="url(#gBoxTop)"/>
<path d="M897,995 L1092,964 L1092,1097 L897,1120 Z" fill="url(#gBox)"/>
<path d="M897,996 L1092,965 L1092,975 L897,1006 Z" fill="url(#gBand)"/>
<path d="M826,956 L891,986 Q897,990 897,998 L897,1120" fill="none" stroke="#6a4646" stroke-width="1.6"/>
<path d="M893,992 L1086,956 Q1092,958 1092,966" fill="none" stroke="#3a2226" stroke-width="2.6"/>
<path d="M852,958 L1010,933 L1068,955 L905,981 Z" fill="none" stroke="#f8dcd8" stroke-width="2"/>
<path d="M856,962 L1010,937 L1062,957 L907,984 Z" fill="none" stroke="#dca8a4" stroke-width="1"/>
<path d="M828,1082 L897,1120 L1092,1097" fill="none" stroke="#c89a9c" stroke-width="1.5"/>
<rect x="225" y="1007" width="16" height="240" fill="url(#gHandle)"/>
<path d="M163,1232 L314,1194 L368,1208 Q376,1212 376,1220 L376,1226 L230,1261 L216,1261 L163,1240 Z" fill="#f2c6be"/>
<path d="M163,1240 L216,1261 L230,1261 L376,1226 L376,1231 L230,1267 L216,1267 L163,1245 Z" fill="#d9a098"/>
<path d="M168,1244 L186,1251 L186,1262 L168,1256 Z" fill="#eab0a8"/>
<path d="M262,1213 L320,1199 L360,1214 L297,1231 Z" fill="#f6d2cc" stroke="#dda8a2" stroke-width="1.5"/>
<path d="M296,1227 L345,1215" stroke="#ffffff" stroke-width="3" stroke-linecap="round"/><path d="M313,1216 L327,1212" stroke="#ffffff" stroke-width="2.5" stroke-linecap="round"/><path d="M313,1209 L322,1207" stroke="#ffffff" stroke-width="2" stroke-linecap="round"/>
<path d="M196,1264 L264,1264 L264,1332 Q264,1348 249,1348 L211,1348 Q196,1348 196,1332 Z" fill="url(#gCup)"/>
<rect x="207.9" y="1274.5" width="3.2" height="20.5" rx="1.5" fill="#7a4e52"/><rect x="207.9" y="1307.6" width="3.2" height="21.2" rx="1.5" fill="#7a4e52"/>
<rect x="224.95" y="1274.5" width="4.5" height="20.5" rx="1.5" fill="#7a4e52"/><rect x="224.95" y="1307.6" width="4.5" height="21.2" rx="1.5" fill="#7a4e52"/>
<rect x="243.4" y="1274.5" width="3.2" height="20.5" rx="1.5" fill="#7a4e52"/><rect x="243.4" y="1307.6" width="3.2" height="21.2" rx="1.5" fill="#7a4e52"/>
<rect x="256.5" y="1274.5" width="3" height="20.5" rx="1.5" fill="#7a4e52"/><rect x="256.5" y="1307.6" width="3" height="21.2" rx="1.5" fill="#7a4e52"/>
<path d="M194,1258 L266,1258 L266,1268 L194,1268 Z" fill="#e2b4b0"/><path d="M194,1266 L266,1266 L266,1269 L194,1269 Z" fill="#9a6c6c"/><rect x="225" y="1258" width="8" height="9" fill="#9a7070"/>
<ellipse cx="229.5" cy="1236" rx="42.5" ry="17" fill="#eab8b2" stroke="#c48c88" stroke-width="1.5"/>
<ellipse cx="229.5" cy="1235" rx="36" ry="13" fill="#b88684"/>
<ellipse cx="229.5" cy="1238" rx="31" ry="9" fill="#d6aaa8"/>
<ellipse cx="229.5" cy="1241" rx="26" ry="5" fill="#e8d0d0"/>
<rect x="225" y="1180" width="16" height="62" fill="url(#gHandle)"/>
</svg>
<div class="t" style="left:152.7px;top:557.7px;font-size:33.3px;letter-spacing:2.45px;color:#4a4a4a;font-weight:400">浴巾架</div>
<div class="t" style="left:273.0px;top:557.0px;font-size:35.68px;letter-spacing:1.22px;color:#4a4a4a;font-weight:400">Towel rack</div>
<div class="t" style="left:152.7px;top:936.0px;font-size:34.04px;letter-spacing:-0.1px;color:#4a4a4a;font-weight:400">双杆</div>
<div class="t" style="left:238.0px;top:935.0px;font-size:36.08px;letter-spacing:1.73px;color:#4a4a4a;font-weight:400">Double towel bar</div>
<div class="t" style="left:820.8px;top:833.6px;font-size:31.03px;letter-spacing:7.4px;color:#4a4a4a;font-weight:400">网架</div>
<div class="t" style="left:906.3px;top:829.0px;font-size:35.95px;letter-spacing:2.03px;color:#4a4a4a;font-weight:400">Grid</div>
<div class="t" style="left:824.6px;top:1209.5px;font-size:32.87px;letter-spacing:1.1px;color:#4a4a4a;font-weight:400">纸盒</div>
<div class="t" style="left:909.6px;top:1214.0px;font-size:28.72px;letter-spacing:0.15px;color:#4a4a4a;font-weight:400">Paper holder</div>
<div class="t" style="left:822.6px;top:1315.3px;font-size:57.32px;letter-spacing:4.12px;color:#1aaac2;font-weight:400;-webkit-text-stroke:1.4px #1aaac2">105–06</div>
<div class="t" style="left:1035.6px;top:1320.6px;font-size:46.87px;letter-spacing:6.25px;color:#1aaac2;font-weight:400;-webkit-text-stroke:1.4px #1aaac2">香槟金</div>
<div class="t" style="left:1192.8px;top:1335.0px;font-size:31.83px;letter-spacing:5.3px;color:#2a2a2a;font-weight:400">五件套</div>
<div class="t" style="left:824.7px;top:1387.8px;font-size:31.13px;letter-spacing:5.78px;color:#2a2a2a;font-weight:400">材质<span style="position:relative;left:-8px;font-weight:700">：</span>太空铝</div>
<div class="t" style="left:824.7px;top:1428.7px;font-size:29.9px;letter-spacing:6.98px;color:#2a2a2a;font-weight:400">表面处理<span style="position:relative;left:-8px;font-weight:700">：</span>亮光</div>
<div class="t" style="left:154.8px;top:1410.5px;font-size:33.12px;letter-spacing:3.3px;color:#4a4a4a;font-weight:400">马桶刷</div>
<div class="t" style="left:156.3px;top:1450.0px;font-size:35.68px;letter-spacing:2.01px;color:#4a4a4a;font-weight:400">Toilet brush holder</div>
</body></html>
